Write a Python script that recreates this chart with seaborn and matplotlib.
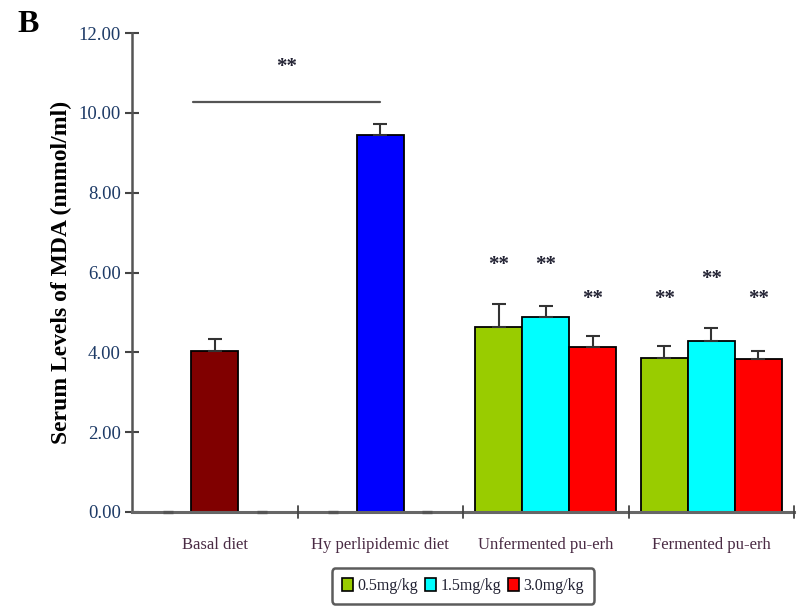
import numpy as np
import pandas as pd
import matplotlib
matplotlib.use("Agg")
import matplotlib.pyplot as plt
import seaborn as sns
from matplotlib.patches import Patch

# Groups and dose levels
groups = ["Basal diet", "Hy perlipidemic diet", "Unfermented pu-erh", "Fermented pu-erh"]
doses = ["0.5mg/kg", "1.5mg/kg", "3.0mg/kg"]

# Serum MDA means and SEM (nmol/ml); control groups only use the middle slot
mda_mean = [
    [0.00, 4.04, 0.00],
    [0.00, 9.45, 0.00],
    [4.63, 4.88, 4.14],
    [3.87, 4.28, 3.83],
]
mda_err = [
    [0.00, 0.29, 0.00],
    [0.00, 0.26, 0.00],
    [0.57, 0.28, 0.28],
    [0.30, 0.34, 0.20],
]
# Height of the "**" significance marks above the treated bars
star_y = [
    [None, None, None],
    [None, None, None],
    [6.19, 6.19, 5.33],
    [5.33, 5.84, 5.33],
]
bracket_y = 10.26
bracket_star_y = 11.15

dose_colors = ["#99cc00", "#00ffff", "#ff0000"]
basal_color = "#800000"
hyper_color = "#0000ff"

rows = []
for gi, g in enumerate(groups):
    for di, d in enumerate(doses):
        rows.append({"group": g, "dose": d,
                     "value": mda_mean[gi][di], "err": mda_err[gi][di]})
df = pd.DataFrame(rows)

sns.set_theme(style="white")
plt.rcParams["font.family"] = ["Liberation Serif", "DejaVu Serif"]

fig = plt.figure(figsize=(8.05, 6.11), dpi=100)
ax = fig.add_axes([132 / 805, 99 / 611, (794 - 132) / 805, (512 - 33) / 611])

sns.barplot(data=df, x="group", y="value", hue="dose", order=groups,
            hue_order=doses, palette=dose_colors, width=0.852, ax=ax,
            errorbar=None, edgecolor="black", linewidth=1.3,
            saturation=1, legend=False, dodge=True)

# Pair every bar patch with its row (seaborn draws hue level by hue level)
bars = [p for p in ax.patches]
lookup = {}
k = 0
for di, d in enumerate(doses):
    for gi, g in enumerate(groups):
        lookup[(gi, di)] = bars[k]
        k += 1

lookup[(0, 1)].set_facecolor(basal_color)
lookup[(1, 1)].set_facecolor(hyper_color)

for (gi, di), p in lookup.items():
    cx = p.get_x() + p.get_width() / 2
    h = mda_mean[gi][di]
    if h == 0:
        p.set_visible(False)
        ax.plot([cx - 0.03, cx + 0.03], [0, 0], color="#555555", lw=2.4,
                solid_capstyle="butt", zorder=5, clip_on=False)
        continue
    e = mda_err[gi][di]
    ax.errorbar(cx, h, yerr=[[0], [e]], fmt="none", ecolor="#333333",
                elinewidth=1.5, capsize=5, capthick=1.5, zorder=4)
    sy = star_y[gi][di]
    if sy is not None:
        ax.text(cx, sy, "**", ha="center", va="center", fontsize=15,
                fontweight="bold", color="#222233")

# Significance bracket between basal and hyperlipidemic groups
x0 = lookup[(0, 1)].get_x() + 0.01
x1 = lookup[(1, 1)].get_x() + lookup[(1, 1)].get_width() / 2
ax.plot([x0, x1], [bracket_y, bracket_y], color="#555555", lw=1.6)
ax.text((x0 + x1) / 2, bracket_star_y, "**", ha="center", va="center",
        fontsize=15, fontweight="bold", color="#222233")

ax.set_xlim(-0.5, 3.5)
ax.set_ylim(0, 12)
ax.set_yticks(np.arange(0, 12.01, 2))
ax.set_yticklabels([f"{v:.2f}" for v in np.arange(0, 12.01, 2)],
                   fontsize=13.5, color="#1d3a66")
ax.set_xticks([])
# Group separators on the baseline
for xs in [0.5, 1.5, 2.5, 3.5]:
    ax.plot([xs, xs], [-0.15, 0.15], color="#444444", lw=1.3,
            clip_on=False, zorder=6)
for gi, g in enumerate(groups):
    ax.text(gi, -0.62, g, ha="center", va="top", fontsize=12,
            color="#4a2b44")

ax.tick_params(axis="y", which="both", left=True, direction="inout",
               length=10, width=1.5, color="#444444", pad=3)
for s in ["top", "right"]:
    ax.spines[s].set_visible(False)
ax.spines["left"].set_color("#555555")
ax.spines["left"].set_linewidth(1.8)
ax.spines["bottom"].set_color("#666666")
ax.spines["bottom"].set_linewidth(2.2)

ax.set_xlabel("")
ax.set_ylabel("Serum Levels of MDA (nnmol/ml)", fontsize=17,
              fontweight="bold", color="black", labelpad=5)

handles = [Patch(facecolor=c, edgecolor="black", linewidth=1.2, label=d)
           for c, d in zip(dose_colors, doses)]
leg = fig.legend(handles=handles, loc="center", bbox_to_anchor=(463 / 805, 1 - 586 / 611),
                 ncol=3, frameon=True, fontsize=11.5, handlelength=0.7,
                 handleheight=0.8, handletextpad=0.3, columnspacing=0.4,
                 borderpad=0.6, fancybox=True)
leg.get_frame().set_edgecolor("#333333")
leg.get_frame().set_linewidth(1.8)
for t in leg.get_texts():
    t.set_color("#222233")

fig.text(17 / 805, 1 - 25 / 611, "B", fontsize=23, fontweight="bold",
         ha="left", va="center", color="black")

fig.savefig("out.png", dpi=100)
